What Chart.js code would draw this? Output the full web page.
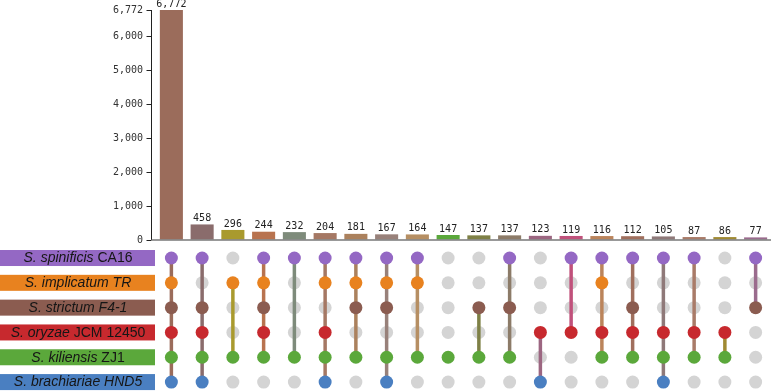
<!DOCTYPE html>
<html>
<head>
<meta charset="utf-8">
<script src="https://cdn.jsdelivr.net/npm/chart.js@4"></script>
<style>
  body { margin: 0; background: #fff; }
  canvas { display: block; }
</style>
</head>
<body>
<canvas id="upset" width="775" height="392"></canvas>
<script>
// intersection sizes, left to right
const sizes = [6772, 458, 296, 244, 232, 204, 181, 167, 164, 147, 137, 137, 123, 119, 116, 112, 105, 87, 86, 77];
// which genomes (row index) belong to each intersection
const members = [
  [0, 1, 2, 3, 4, 5], [0, 2, 3, 4, 5], [1, 4], [0, 1, 2, 3, 4], [0, 4],
  [0, 1, 3, 4, 5], [0, 1, 2, 4], [0, 1, 2, 4, 5], [0, 1, 4], [4],
  [2, 4], [0, 2, 4], [3, 5], [0, 3], [0, 1, 3, 4],
  [0, 2, 3, 4], [0, 3, 4, 5], [0, 3, 4], [3, 4], [0, 2]
];
const rowItalic = ["S. spinificis", "S. implicatum TR", "S. strictum F4-1", "S. oryzae", "S. kiliensis", "S. brachiariae HND5"];
const rowPlain = [" CA16", "", "", " JCM 12450", " ZJ1", ""];
const yTicks = [0, 1000, 2000, 3000, 4000, 5000, 6000, 6772];

const rowColors = ["#9468c4", "#e8821f", "#8b5c50", "#c7292e", "#5ba83b", "#4a7fc1"];
const colColors = [
  "#9b6c5b", "#8a6c6c", "#a99a2e", "#b8734f", "#7e8b7b", "#a57864", "#ab815d", "#98817a", "#b68f63", "#5ba83b",
  "#7e8046", "#8c7b68", "#9c6681", "#c0517b", "#bb845b", "#a06f5d", "#8f7979", "#a97b68", "#a08a33", "#9a6b8d"
];
const labels = sizes.map((_, i) => "set" + (i + 1));

const grayDots = [];
const colorDots = [];
const colorDotFill = [];
labels.forEach((lab, i) => {
  for (let r = 0; r < rowItalic.length; r++) {
    if (members[i].includes(r)) {
      colorDots.push({ x: lab, y: r });
      colorDotFill.push(rowColors[r]);
    } else {
      grayDots.push({ x: lab, y: r });
    }
  }
});

const links = labels.map((lab, i) => ({
  type: "line",
  yAxisID: "yM",
  data: [{ x: lab, y: Math.min(...members[i]) }, { x: lab, y: Math.max(...members[i]) }],
  borderColor: colColors[i],
  borderWidth: 3.5,
  pointRadius: 0,
  order: 1,
}));

const monoFont = { family: "'DejaVu Sans Mono', monospace", size: 10 };
const AXIS_GAP = 5; // axis line sits a little left of the first bar slot

const upsetDecor = {
  id: "upsetDecor",
  afterDatasetsDraw(chart) {
    const { ctx, chartArea } = chart;
    const y = chart.scales.y;
    const yM = chart.scales.yM;
    const ax = Math.round(chartArea.left - AXIS_GAP) + 0.5;
    ctx.save();

    // y axis line and tick marks
    ctx.strokeStyle = "#222";
    ctx.lineWidth = 1;
    ctx.beginPath();
    ctx.moveTo(ax, y.getPixelForValue(y.max));
    ctx.lineTo(ax, y.getPixelForValue(0));
    yTicks.forEach((v) => {
      const py = Math.round(y.getPixelForValue(v)) + 0.5;
      ctx.moveTo(ax - 5, py);
      ctx.lineTo(ax, py);
    });
    ctx.stroke();

    // baseline at zero
    ctx.strokeStyle = "#777";
    ctx.lineWidth = 1.5;
    const y0 = y.getPixelForValue(0);
    ctx.beginPath();
    ctx.moveTo(ax, y0);
    ctx.lineTo(chartArea.right, y0);
    ctx.stroke();

    // value labels above the bars
    const bars = chart.getDatasetMeta(0).data;
    ctx.fillStyle = "#222";
    ctx.font = "10px 'DejaVu Sans Mono', monospace";
    ctx.textAlign = "center";
    ctx.textBaseline = "bottom";
    bars.forEach((b, i) => {
      ctx.fillText(sizes[i].toLocaleString("en-US"), b.x, b.y - 1);
    });

    // genome label boxes
    ctx.textBaseline = "middle";
    ctx.textAlign = "left";
    rowItalic.forEach((name, r) => {
      const py = yM.getPixelForValue(r);
      ctx.fillStyle = rowColors[r];
      ctx.fillRect(0, py - 8, 155, 16);
      ctx.font = "italic 14px 'Liberation Sans', Arial, sans-serif";
      const w1 = ctx.measureText(name).width;
      ctx.font = "14px 'Liberation Sans', Arial, sans-serif";
      const w2 = ctx.measureText(rowPlain[r]).width;
      let x = 78 - (w1 + w2) / 2;
      ctx.fillStyle = "#161616";
      ctx.font = "italic 14px 'Liberation Sans', Arial, sans-serif";
      ctx.fillText(name, x, py + 0.5);
      ctx.font = "14px 'Liberation Sans', Arial, sans-serif";
      ctx.fillText(rowPlain[r], x + w1, py + 0.5);
    });
    ctx.restore();
  },
};

new Chart(document.getElementById("upset"), {
  type: "bar",
  data: {
    labels: labels,
    datasets: [
      {
        type: "bar",
        data: sizes,
        yAxisID: "y",
        backgroundColor: colColors,
        barPercentage: 0.75,
        categoryPercentage: 1,
        order: 3,
      },
      {
        type: "line",
        yAxisID: "yM",
        data: grayDots,
        showLine: false,
        pointRadius: 6.5,
        pointBackgroundColor: "#d4d4d4",
        pointBorderWidth: 0,
        order: 2,
      },
      ...links,
      {
        type: "line",
        yAxisID: "yM",
        data: colorDots,
        showLine: false,
        pointRadius: 6.5,
        pointBackgroundColor: colorDotFill,
        pointBorderWidth: 0,
        order: 0,
      },
    ],
  },
  options: {
    responsive: false,
    animation: false,
    events: [],
    layout: { autoPadding: false, padding: { top: 10, right: 4, left: 0, bottom: 0 } },
    plugins: {
      legend: { display: false },
      tooltip: { enabled: false },
    },
    scales: {
      x: {
        display: false,
        offset: true,
      },
      yM: {
        type: "linear",
        position: "left",
        stack: "upset",
        stackWeight: 152,
        reverse: true,
        min: -0.726,
        max: 5.40,
        afterFit: (scale) => {
          scale.width = 156;
          scale.paddingTop = 0;
          scale.paddingBottom = 0;
        },
        ticks: { display: false },
        grid: { display: false },
        border: { display: false },
      },
      y: {
        position: "left",
        stack: "upset",
        stackWeight: 230,
        min: 0,
        max: 6772,
        afterBuildTicks: (scale) => {
          scale.ticks = yTicks.map((v) => ({ value: v }));
        },
        afterFit: (scale) => {
          scale.width = 156;
          scale.paddingTop = 0;
          scale.paddingBottom = 0;
        },
        ticks: {
          font: monoFont,
          color: "#333",
          padding: 3,
          autoSkip: false,
          callback: (v) => v.toLocaleString("en-US"),
        },
        grid: {
          color: "transparent",
          tickColor: "transparent",
          tickLength: 10,
        },
        border: { display: false },
      },
    },
  },
  plugins: [upsetDecor],
});
</script>
</body>
</html>
